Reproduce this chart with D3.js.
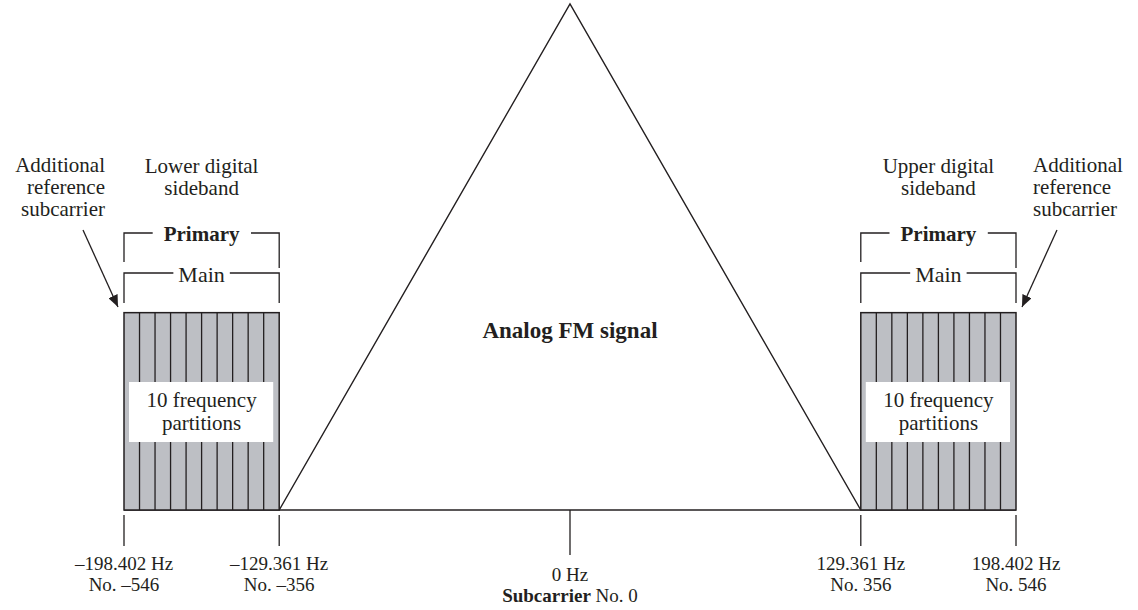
<!DOCTYPE html>
<html><head><meta charset="utf-8">
<script src="https://cdn.jsdelivr.net/npm/d3@7"></script>
<style>html,body{margin:0;padding:0;background:#fff}svg{display:block}text{font-family:"Liberation Serif","Times New Roman",serif;fill:#231f20}</style>
</head><body><svg id="c" width="1138" height="610"></svg>
<script>
// ---- data ----
const tickFreqLabels = ["\u2013198.402 Hz", "\u2013129.361 Hz", "0 Hz", "129.361 Hz", "198.402 Hz"];
const tickSubcarriers = [-546, -356, 0, 356, 546];
const tickNumLabels = ["No. \u2013546", "No. \u2013356", null, "No. 356", "No. 546"];
const sidebandNames = ["Lower digital", "Upper digital"];
const sidebandRanges = [[-546, -356], [356, 546]];
const partitionsPerSideband = 10;
const analogPeak = [[-356, 0], [0, 1], [356, 0]];
const digitalLevel = 0.39;

const ink = "#231f20", gray = "#bdbfc4";
const svg = d3.select("#c");
const x = d3.scaleLinear().domain([-546, 546]).range([124, 1016]);
const y = d3.scaleLinear().domain([0, 1]).range([510, 4]);
const FS = 21;

// baseline
svg.append("line").attr("x1", x(-546)).attr("x2", x(546)).attr("y1", y(0)).attr("y2", y(0))
  .attr("stroke", ink).attr("stroke-width", 1.5);

// analog triangle
svg.append("path").attr("d", d3.line().x(d => x(d[0])).y(d => y(d[1]))(analogPeak))
  .attr("fill", "none").attr("stroke", ink).attr("stroke-width", 1.4);

svg.append("text").attr("x", x(0)).attr("y", 338).attr("text-anchor", "middle")
  .attr("font-size", 23).attr("font-weight", "bold").text("Analog FM signal");

// sidebands
sidebandRanges.forEach((r, i) => {
  const g = svg.append("g");
  const edges = d3.range(partitionsPerSideband + 1).map(k => r[0] + (r[1] - r[0]) * k / partitionsPerSideband);
  g.append("rect").attr("x", x(r[0])).attr("y", y(digitalLevel))
    .attr("width", x(r[1]) - x(r[0])).attr("height", y(0) - y(digitalLevel))
    .attr("fill", gray).attr("stroke", ink).attr("stroke-width", 1.5);
  g.selectAll("line.p").data(edges.slice(1, -1)).join("line")
    .attr("x1", d => x(d)).attr("x2", d => x(d)).attr("y1", y(digitalLevel)).attr("y2", y(0))
    .attr("stroke", ink).attr("stroke-width", 1.3);
  const x0 = x(r[0]), x1 = x(r[1]), cx = (x0 + x1) / 2;
  // white label box
  g.append("rect").attr("x", x0 + 5).attr("y", 382).attr("width", x1 - x0 - 11).attr("height", 60).attr("fill", "#fff");
  g.append("text").attr("x", cx).attr("y", 407).attr("text-anchor", "middle").attr("font-size", FS).text("10 frequency");
  g.append("text").attr("x", cx).attr("y", 430).attr("text-anchor", "middle").attr("font-size", FS).text("partitions");
  // titles
  g.append("text").attr("x", cx).attr("y", 173).attr("text-anchor", "middle").attr("font-size", FS).text(sidebandNames[i]);
  g.append("text").attr("x", cx).attr("y", 195).attr("text-anchor", "middle").attr("font-size", FS).text("sideband");
  // brackets
  function bracket(label, yl, yt, bold, leftEnd, rightEnd) {
    const t = g.append("text").attr("x", cx).attr("y", yt).attr("text-anchor", "middle")
      .attr("font-size", bold ? 21 : 22).attr("font-weight", bold ? "bold" : "normal").text(label);
    const bb = t.node().getBBox();
    const pad = bold ? 11 : 5;
    g.append("path").attr("fill", "none").attr("stroke", ink).attr("stroke-width", 1.3)
      .attr("d", `M${x0},${leftEnd}V${yl}H${bb.x - pad}M${bb.x + bb.width + pad},${yl}H${x1}V${rightEnd}`);
  }
  bracket("Primary", 233, 241, true, 262, 268);
  bracket("Main", 273, 282, false, 303, 303);
});

// additional reference subcarrier labels + arrows
svg.append("defs").append("marker").attr("id", "ah").attr("viewBox", "0 0 12 10")
  .attr("refX", 12).attr("refY", 5).attr("markerWidth", 12).attr("markerHeight", 10)
  .attr("markerUnits", "userSpaceOnUse").attr("orient", "auto")
  .append("path").attr("d", "M0,0L12,5L0,10Z").attr("fill", ink);

const arl = ["Additional", "reference", "subcarrier"];
arl.forEach((s, k) => {
  svg.append("text").attr("x", 105).attr("y", 172 + 22 * k).attr("text-anchor", "end").attr("font-size", FS).text(s);
  svg.append("text").attr("x", 1033).attr("y", 172 + 22 * k).attr("text-anchor", "start").attr("font-size", FS).text(s);
});
svg.append("line").attr("x1", 83).attr("y1", 230).attr("x2", x(-546) - 6).attr("y2", 307)
  .attr("stroke", ink).attr("stroke-width", 1.3).attr("marker-end", "url(#ah)");
svg.append("line").attr("x1", 1057).attr("y1", 230).attr("x2", x(546) + 6).attr("y2", 307)
  .attr("stroke", ink).attr("stroke-width", 1.3).attr("marker-end", "url(#ah)");

// ticks and labels
const BFS = 19;
tickSubcarriers.forEach((s, k) => {
  const center = s === 0;
  svg.append("line").attr("x1", x(s)).attr("x2", x(s)).attr("y1", center ? y(0) : 515).attr("y2", center ? 555 : 546)
    .attr("stroke", ink).attr("stroke-width", 1.3);
  if (center) {
    svg.append("text").attr("x", x(s)).attr("y", 581).attr("text-anchor", "middle").attr("font-size", BFS).text(tickFreqLabels[k]);
    const t = svg.append("text").attr("x", x(s)).attr("y", 602).attr("text-anchor", "middle").attr("font-size", BFS);
    t.append("tspan").attr("font-weight", "bold").text("Subcarrier");
    t.append("tspan").text(" No. 0");
  } else {
    svg.append("text").attr("x", x(s)).attr("y", 570).attr("text-anchor", "middle").attr("font-size", BFS).text(tickFreqLabels[k]);
    svg.append("text").attr("x", x(s)).attr("y", 591).attr("text-anchor", "middle").attr("font-size", BFS).text(tickNumLabels[k]);
  }
});
</script></body></html>
